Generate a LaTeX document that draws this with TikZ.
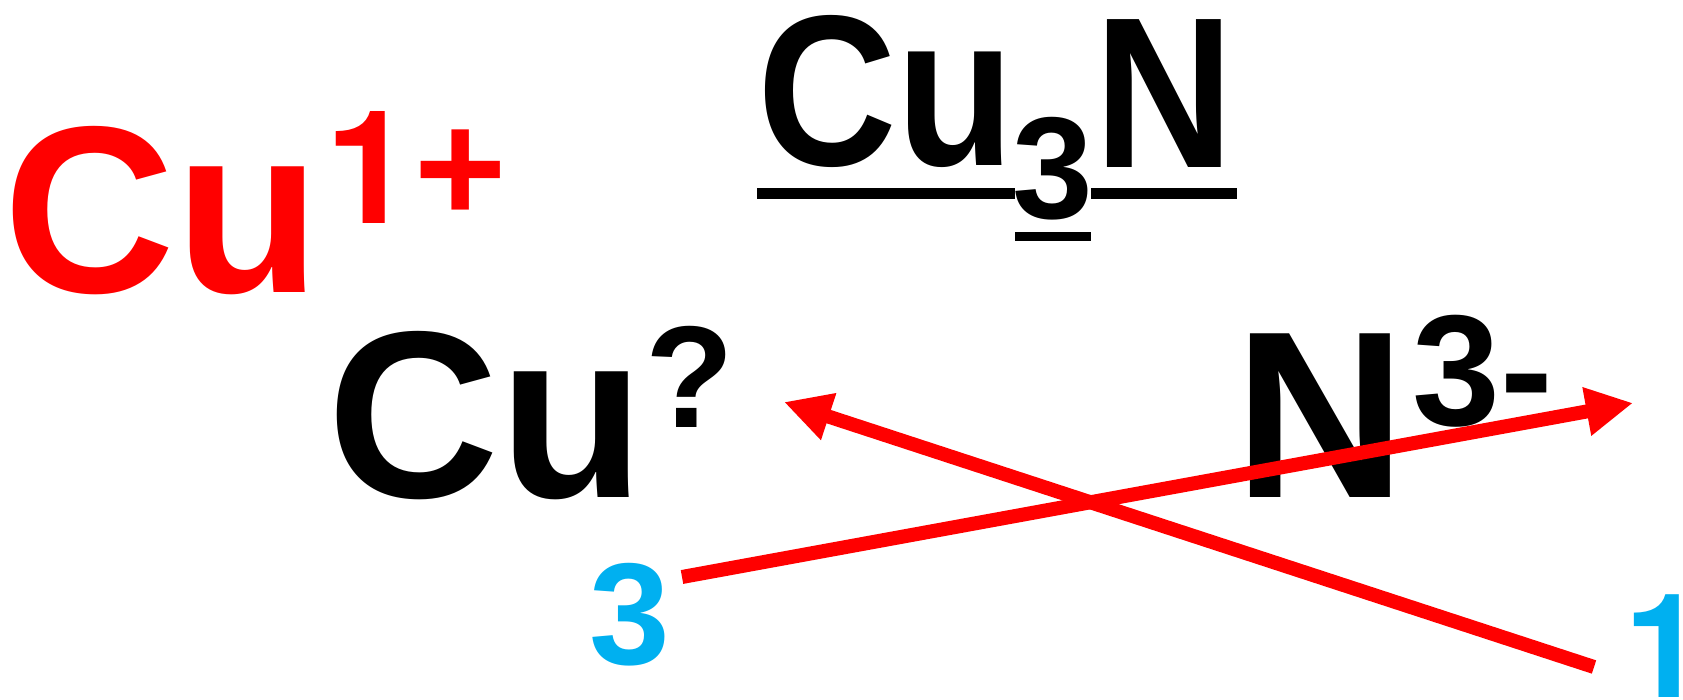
\documentclass[tikz,border=0pt]{standalone}
\usepackage{fontspec}
\usepackage{graphicx}
\setmainfont{Liberation Sans}
\newfontfamily\onefont{TeX Gyre Heros}
\usetikzlibrary{arrows.meta}
\definecolor{cured}{RGB}{255,0,0}
\definecolor{skyblue}{RGB}{0,176,240}
\newcommand{\fsz}[1]{\fontsize{#1}{#1}\selectfont\bfseries}
\newcommand{\narrow}[1]{\scalebox{0.9}[1]{#1}}
\begin{document}
\begin{tikzpicture}[x=1pt,y=-1pt,
  txt/.style={inner sep=0pt,outer sep=0pt,anchor=base},
  bigtxt/.style={txt,font=\fsz{238}},
  midtxt/.style={txt,font=\fsz{215}},
  suptxt/.style={txt,font=\fsz{158}},
  qtxt/.style={txt,font=\fsz{145}},
  numtxt/.style={txt,font=\fsz{145},text=skyblue},
  redarrow/.style={draw=cured,line width=14pt,-{Triangle[length=47pt,width=46pt]}},
  ubar/.style={fill=black,draw=none}]
\useasboundingbox (0,0) rectangle (1683,700);
% red Cu 1+
\node[bigtxt,text=cured] (cured) at (162,293) {Cu};
\node[suptxt,text=cured] (one) at (369,224) {\onefont\bfseries 1};
\node[suptxt,text=cured] (plus) at (461,223) {+};
% Cu3N
\node[midtxt] (cu3) at (886,166) {\narrow{Cu}};
\node[qtxt] (sub3) at (1053,219) {3};
\node[midtxt] (nform) at (1164,168) {\narrow{N}};
\fill[ubar] (757,188) rectangle (1015,199);
\fill[ubar] (1091,188) rectangle (1237,199);
\fill[ubar] (1015,232) rectangle (1091,241);
% Cu ?
\node[bigtxt] (cuq) at (486,497) {Cu};
\node[qtxt] (qm) at (690,427) {?};
% N 3-
\node[bigtxt] (nion) at (1320,497) {N};
\node[suptxt] (three) at (1456,425) {3};
\node[suptxt] (minus) at (1527,424) {-};
% blue numbers
\node[numtxt] (b3) at (630,664) {3};
\node[numtxt] (b1) at (1665,697) {\onefont\bfseries 1};
% arrows
\coordinate (tailA) at (682,577);
\coordinate (tipA) at (1633,403);
\coordinate (tailB) at (1594,667);
\coordinate (tipB) at (784,402);
\draw[redarrow] (tailA) -- (tipA);
\draw[redarrow] (tailB) -- (tipB);
\end{tikzpicture}
\end{document}
